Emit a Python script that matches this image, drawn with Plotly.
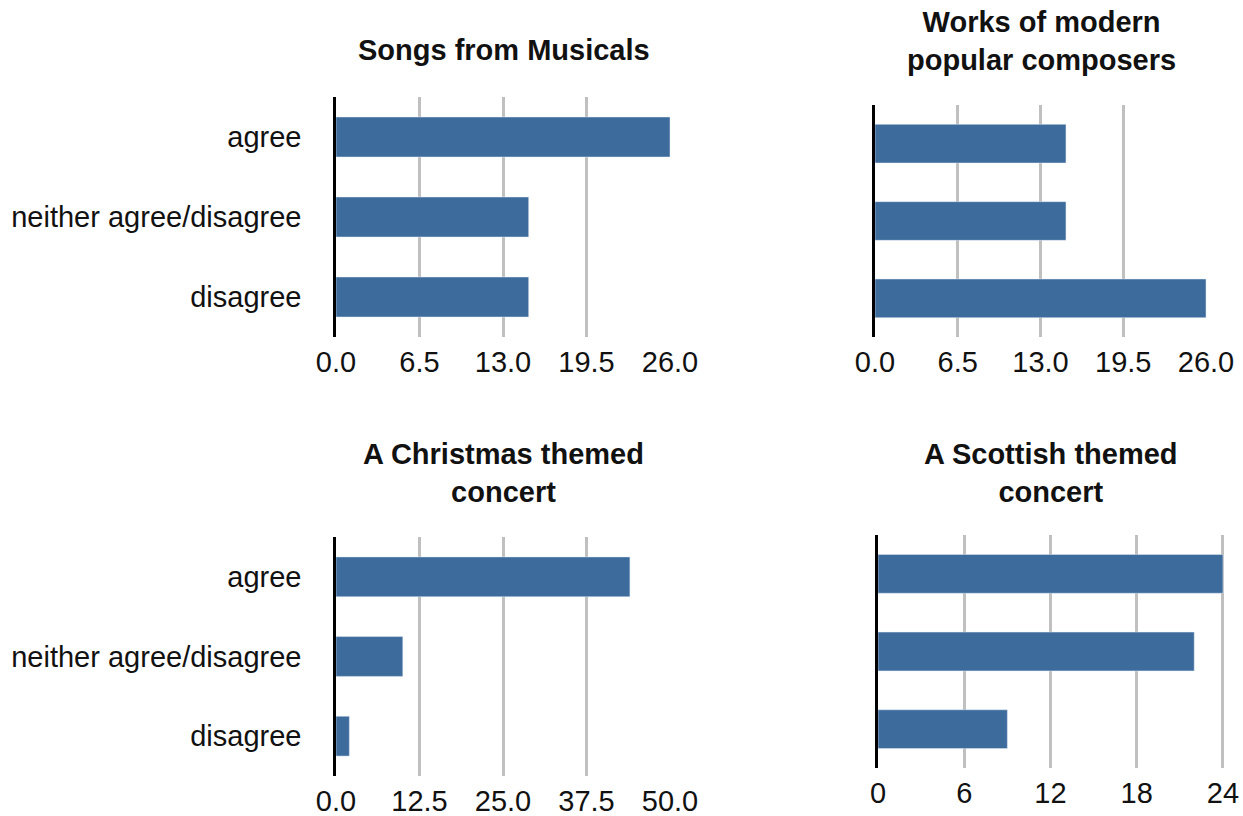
import plotly.graph_objects as go

categories = ["agree", "neither agree/disagree", "disagree"]
titles = ["Songs from Musicals", "Works of modern<br>popular composers",
          "A Christmas themed<br>concert", "A Scottish themed<br>concert"]
songs_musicals = [26, 15, 15]
modern_composers = [15, 15, 26]
christmas = [44, 10, 2]
scottish = [24, 22, 9]
series = [songs_musicals, modern_composers, christmas, scottish]

tickvals = [[0, 6.5, 13, 19.5, 26], [0, 6.5, 13, 19.5, 26],
            [0, 12.5, 25, 37.5, 50], [0, 6, 12, 18, 24]]
ticktext = [["0.0", "6.5", "13.0", "19.5", "26.0"], ["0.0", "6.5", "13.0", "19.5", "26.0"],
            ["0.0", "12.5", "25.0", "37.5", "50.0"], ["0", "6", "12", "18", "24"]]

W, H = 1243, 816
# pixel boxes in window coords: (left, right, top, bottom)
boxes = [(336, 671, 97, 337), (875, 1207, 105, 337),
         (336, 671, 537, 776), (878, 1224, 535, 768)]
title_y = [50, 41, 473, 473]

FONT = "Liberation Sans, Arial, Helvetica, sans-serif"
BAR = "#3c6b9c"

fig = go.Figure()
for i, vals in enumerate(series):
    xa = "x" if i == 0 else f"x{i+1}"
    ya = "y" if i == 0 else f"y{i+1}"
    fig.add_trace(go.Bar(x=vals, y=categories, orientation="h", marker_color=BAR,
                         width=0.5, xaxis=xa, yaxis=ya, showlegend=False))
    l, r, t, b = boxes[i]
    xkey = "xaxis" if i == 0 else f"xaxis{i+1}"
    ykey = "yaxis" if i == 0 else f"yaxis{i+1}"
    top = tickvals[i][-1]
    fig.update_layout(**{
        xkey: dict(domain=[l / W, r / W], anchor=ya, range=[0, top * 1.003],
                   tickvals=tickvals[i], ticktext=ticktext[i], automargin=False,
                   showgrid=True, gridcolor="#c0c0c0", gridwidth=2.5,
                   zeroline=False, showline=False, ticks="",
                   ticklabelstandoff=5,
                   tickfont=dict(size=29, color="#111", family=FONT)),
        ykey: dict(domain=[1 - b / H, 1 - t / H], anchor=xa, automargin=False,
                   categoryorder="array", categoryarray=categories[::-1],
                   range=[-0.5, 2.5],
                   showgrid=False, zeroline=False, showline=True,
                   linecolor="black", linewidth=2.5, ticks="",
                   showticklabels=(i % 2 == 0), ticklabelstandoff=26,
                   tickfont=dict(size=29, color="#111", family=FONT)),
    })
    fig.add_annotation(text=f"<b>{titles[i]}</b>", x=(l + r) / 2 / W,
                       y=1 - title_y[i] / H,
                       xref="paper", yref="paper", showarrow=False,
                       xanchor="center", yanchor="middle",
                       font=dict(size=29, color="#111", family=FONT))

fig.update_layout(width=W, height=H, margin=dict(l=0, r=0, t=0, b=0),
                  plot_bgcolor="white", paper_bgcolor="white", bargap=0.5)
fig.write_html("out.html", config={"displayModeBar": False},
               post_script="document.body.style.margin='0';document.body.style.overflow='hidden';")
